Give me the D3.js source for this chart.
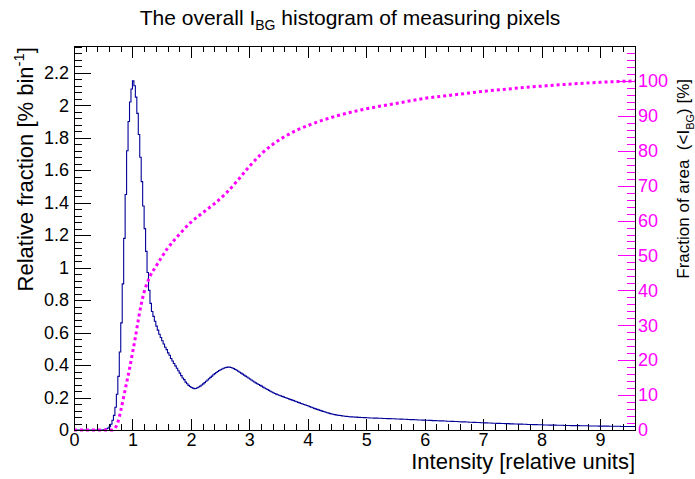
<!DOCTYPE html>
<html>
<head>
<meta charset="utf-8">
<script src="https://cdn.jsdelivr.net/npm/d3@7"></script>
<style>
	body { margin: 0; background: #fff; }
	svg { display: block; font-family: "Liberation Sans", Arial, sans-serif; }
	.tick line { shape-rendering: crispEdges; }
</style>
</head>
<body>
<div id="chart"></div>
<script>
// histogram, bin width 0.025, left edges start at 0
var binWidth = 0.025;
var histValues = [
	0, 0, 0, 0, 0, 0, 0, 0, 0, 0,
	0, 0, 0, 0, 0, 0, 0, 0, 0, 0,
	0.002, 0.005, 0.008, 0.012, 0.02, 0.035, 0.06, 0.09, 0.14, 0.22,
	0.33, 0.48, 0.66, 0.9, 1.18, 1.45, 1.72, 1.9, 2.02, 2.1,
	2.15, 2.12, 2.05, 1.95, 1.82, 1.68, 1.53, 1.38, 1.24, 1.1,
	0.97, 0.86, 0.78, 0.73, 0.7, 0.67, 0.64, 0.615, 0.59, 0.57,
	0.55, 0.53, 0.51, 0.495, 0.475, 0.46, 0.44, 0.425, 0.41, 0.395,
	0.38, 0.365, 0.35, 0.335, 0.32, 0.31, 0.295, 0.285, 0.275, 0.268,
	0.262, 0.258, 0.255, 0.256, 0.26, 0.265, 0.27, 0.277, 0.284, 0.292,
	0.3, 0.308, 0.316, 0.324, 0.332, 0.34, 0.347, 0.354, 0.36, 0.366,
	0.371, 0.376, 0.38, 0.383, 0.386, 0.387, 0.387, 0.385, 0.382, 0.378,
	0.373, 0.368, 0.362, 0.356, 0.35, 0.344, 0.338, 0.332, 0.326, 0.32,
	0.314, 0.308, 0.302, 0.296, 0.29, 0.285, 0.28, 0.275, 0.27, 0.264,
	0.259, 0.254, 0.249, 0.244, 0.239, 0.234, 0.229, 0.225, 0.221, 0.217,
	0.214, 0.211, 0.207, 0.204, 0.2, 0.197, 0.194, 0.19, 0.187, 0.184,
	0.181, 0.177, 0.174, 0.17, 0.167, 0.163, 0.16, 0.157, 0.154, 0.151,
	0.148, 0.144, 0.14, 0.137, 0.133, 0.13, 0.127, 0.124, 0.121, 0.118,
	0.115, 0.112, 0.109, 0.106, 0.104, 0.101, 0.099, 0.097, 0.095, 0.093,
	0.091, 0.09, 0.089, 0.087, 0.086, 0.085, 0.084, 0.083, 0.082, 0.081,
	0.081, 0.08, 0.079, 0.079, 0.078, 0.078, 0.077, 0.077, 0.076, 0.076,
	0.075, 0.075, 0.074, 0.074, 0.074, 0.073, 0.073, 0.073,
	0.072, 0.072, 0.072, 0.071, 0.071, 0.071, 0.070, 0.070,
	0.070, 0.069, 0.069, 0.069, 0.068, 0.068, 0.068, 0.067,
	0.067, 0.066, 0.066, 0.066, 0.065, 0.065, 0.064, 0.064,
	0.064, 0.063, 0.063, 0.062, 0.062, 0.062, 0.061, 0.061,
	0.060, 0.060, 0.060, 0.059, 0.059, 0.058, 0.058, 0.058,
	0.057, 0.057, 0.056, 0.056, 0.056, 0.055, 0.055, 0.054,
	0.054, 0.054, 0.053, 0.053, 0.052, 0.052, 0.052, 0.051,
	0.051, 0.050, 0.050, 0.050, 0.049, 0.049, 0.048, 0.048,
	0.048, 0.047, 0.047, 0.046, 0.046, 0.046, 0.045, 0.045,
	0.045, 0.044, 0.044, 0.043, 0.043, 0.043, 0.042, 0.042,
	0.042, 0.041, 0.041, 0.041, 0.040, 0.040, 0.040, 0.039,
	0.039, 0.039, 0.038, 0.038, 0.038, 0.037, 0.037, 0.037,
	0.036, 0.036, 0.036, 0.035, 0.035, 0.035, 0.034, 0.034,
	0.034, 0.034, 0.033, 0.033, 0.033, 0.032, 0.032, 0.032,
	0.032, 0.031, 0.031, 0.031, 0.031, 0.030, 0.030, 0.030,
	0.030, 0.030, 0.029, 0.029, 0.029, 0.029, 0.029, 0.028,
	0.028, 0.028, 0.028, 0.028, 0.027, 0.027, 0.027, 0.027,
	0.027, 0.027, 0.026, 0.026, 0.026, 0.026, 0.026, 0.026,
	0.025, 0.025, 0.025, 0.025, 0.025, 0.025, 0.025, 0.024,
	0.024, 0.024, 0.024, 0.024, 0.024, 0.024, 0.023, 0.023,
	0.023, 0.023, 0.023, 0.023, 0.023, 0.023, 0.022, 0.022,
	0.022, 0.022, 0.022, 0.022, 0.022, 0.022, 0.022, 0.022
];

// cumulative fraction of area [%]
var cumX = [0, 0.65, 0.7, 0.75, 0.8, 0.85, 0.9, 0.95, 1.0, 1.05, 1.1, 1.15, 1.2, 1.3, 1.4, 1.5, 1.6, 1.8, 2.0, 2.2, 2.4, 2.6, 2.8, 3.0, 3.2, 3.4, 3.6, 3.8, 4.0, 4.5, 5.0, 5.5, 6.0, 6.5, 7.0, 7.5, 8.0, 8.5, 9.0, 9.6];
var cumPct = [0, 0, 0.5, 2.2, 5.5, 9.5, 13.5, 17.5, 22, 26.5, 31.5, 36, 39.5, 44, 46.8, 49.5, 52, 56, 59.5, 62.2, 64.8, 67.8, 71.5, 75.5, 79, 81.8, 84, 85.8, 87.2, 90, 92, 93.5, 95, 96, 97, 97.8, 98.5, 99.1, 99.6, 100];

var xTicks = [0, 1, 2, 3, 4, 5, 6, 7, 8, 9];
var yTicks = [0, 0.2, 0.4, 0.6, 0.8, 1, 1.2, 1.4, 1.6, 1.8, 2, 2.2];
var yTickLabels = ["0", "0.2", "0.4", "0.6", "0.8", "1", "1.2", "1.4", "1.6", "1.8", "2", "2.2"];
var rTicks = [0, 10, 20, 30, 40, 50, 60, 70, 80, 90, 100];

var width = 695, height = 479;
var frameL = 74, frameR = 635, frameT = 46, frameB = 430;
var blue = "#000099", magenta = "#ff00ff";

var svg = d3.select("#chart").append("svg")
	.attr("width", width)
	.attr("height", height);

var x = d3.scaleLinear().domain([0, 9.6]).range([frameL, frameR]);
var y = d3.scaleLinear().domain([0, 2.365]).range([frameB, frameT]);
var yR = d3.scaleLinear().domain([0, 110]).range([frameB, frameT]);

var xMinor = d3.range(0, 49).map(function(i){ return i * 0.2; }).filter(function(v){ return v <= 9.6 && Math.abs(v - Math.round(v)) > 1e-6; });
var yMinor = d3.range(0, 60).map(function(i){ return i * 0.04; }).filter(function(v){ return v <= 2.365 && Math.abs(v * 5 - Math.round(v * 5)) > 1e-6; });
var rMinor = d3.range(0, 56).map(function(i){ return i * 2; }).filter(function(v){ return v <= 110 && v % 10 !== 0; });

function clean(g){
	g.select(".domain").remove();
	g.selectAll(".tick line").attr("stroke", "#000");
}

// bottom axis
svg.append("g")
	.attr("transform", "translate(0," + frameB + ")")
	.call(d3.axisBottom(x).tickValues(xMinor).tickSize(-5.8).tickFormat(""))
	.call(clean);
svg.append("g")
	.attr("transform", "translate(0," + frameB + ")")
	.call(d3.axisBottom(x).tickValues(xTicks).tickSize(-11.5).tickPadding(3).tickFormat(d3.format("d")))
	.call(clean)
	.selectAll("text")
		.attr("font-size", 18)
		.attr("fill", "#000");

// top axis (ticks only)
svg.append("g")
	.attr("transform", "translate(0," + frameT + ")")
	.call(d3.axisTop(x).tickValues(xMinor).tickSize(-5.8).tickFormat(""))
	.call(clean);
svg.append("g")
	.attr("transform", "translate(0," + frameT + ")")
	.call(d3.axisTop(x).tickValues(xTicks).tickSize(-11.5).tickFormat(""))
	.call(clean);

// left axis
svg.append("g")
	.attr("transform", "translate(" + frameL + ",0)")
	.call(d3.axisLeft(y).tickValues(yMinor).tickSize(-8.4).tickFormat(""))
	.call(clean);
svg.append("g")
	.attr("transform", "translate(" + frameL + ",0)")
	.call(d3.axisLeft(y).tickValues(yTicks).tickSize(-16.8).tickPadding(5)
		.tickFormat(function(d, i){ return yTickLabels[i]; }))
	.call(clean)
	.selectAll("text")
		.attr("font-size", 18)
		.attr("fill", "#000");

// right axis, magenta
var rAxisMinor = svg.append("g")
	.attr("transform", "translate(" + frameR + ",0)")
	.call(d3.axisRight(yR).tickValues(rMinor).tickSize(-8.4).tickFormat(""));
rAxisMinor.select(".domain").remove();
rAxisMinor.selectAll(".tick line").attr("stroke", magenta);

var rAxis = svg.append("g")
	.attr("transform", "translate(" + frameR + ",0)")
	.call(d3.axisRight(yR).tickValues(rTicks).tickSize(-16.8).tickPadding(3).tickFormat(d3.format("d")));
rAxis.select(".domain").remove();
rAxis.selectAll(".tick line").attr("stroke", magenta);
rAxis.selectAll("text")
	.attr("font-size", 18)
	.attr("fill", magenta);

// histogram as steps
var histPoints = histValues.map(function(v, i){ return [i * binWidth, v]; });
histPoints.push([histValues.length * binWidth, histValues[histValues.length - 1]]);

var line = d3.line()
	.x(function(d){ return x(d[0]); })
	.y(function(d){ return y(d[1]); })
	.curve(d3.curveStepAfter);

svg.append("path")
	.datum(histPoints)
	.attr("d", line)
	.attr("fill", "none")
	.attr("stroke", blue)
	.attr("stroke-width", 1.1);

// cumulative fraction, dotted
var cumLine = d3.line()
	.x(function(d){ return x(d); })
	.y(function(d, i){ return yR(cumPct[i]); })
	.curve(d3.curveMonotoneX);

svg.append("path")
	.datum(cumX)
	.attr("d", cumLine)
	.attr("fill", "none")
	.attr("stroke", magenta)
	.attr("stroke-width", 3)
	.attr("stroke-dasharray", "3,3");

// frame
svg.append("rect")
	.attr("x", frameL)
	.attr("y", frameT)
	.attr("width", frameR - frameL)
	.attr("height", frameB - frameT)
	.attr("fill", "none")
	.attr("stroke", "#000")
	.attr("stroke-width", 1)
	.attr("shape-rendering", "crispEdges");

// title
var title = svg.append("text")
	.attr("x", 350)
	.attr("y", 25)
	.attr("text-anchor", "middle")
	.attr("font-size", 21)
	.attr("fill", "#000");
title.append("tspan").text("The overall I");
title.append("tspan").attr("font-size", 14).attr("dy", 5).text("BG");
title.append("tspan").attr("dy", -5).text(" histogram of measuring pixels");

// x title
svg.append("text")
	.attr("x", frameR)
	.attr("y", 469)
	.attr("text-anchor", "end")
	.attr("font-size", 22)
	.attr("fill", "#000")
	.text("Intensity [relative units]");

// left y title
var yTitle = svg.append("text")
	.attr("transform", "translate(33,47) rotate(-90)")
	.attr("text-anchor", "end")
	.attr("font-size", 22)
	.attr("fill", "#000");
yTitle.append("tspan").text("Relative fraction [% bin");
yTitle.append("tspan").attr("font-size", 15).attr("dy", -9).text("-1");
yTitle.append("tspan").attr("dy", 9).text("]");

// right y title
var rTitle = svg.append("text")
	.attr("transform", "translate(689,79) rotate(-90)")
	.attr("text-anchor", "end")
	.attr("font-size", 17)
	.attr("fill", "#000")
	.style("white-space", "pre");
rTitle.append("tspan").text("Fraction of area  (<I");
rTitle.append("tspan").attr("font-size", 11).attr("dy", 5).text("BG");
rTitle.append("tspan").attr("dy", -5).text(") [%]");
</script>
</body>
</html>
